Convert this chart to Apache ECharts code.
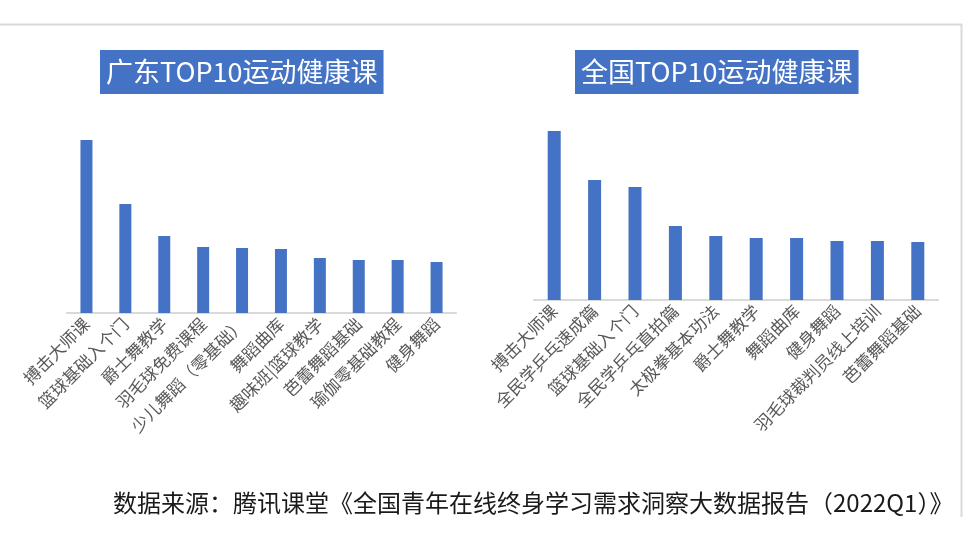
<!DOCTYPE html>
<html>
<head>
<meta charset="utf-8">
<title>TOP10运动健康课</title>
<script src="https://cdn.jsdelivr.net/npm/echarts@6/dist/echarts.min.js"></script>
<style>
    html, body { margin: 0; padding: 0; background: #fff; }
    #main { width: 964px; height: 542px; }
</style>
</head>
<body>
<div id="main"></div>
<script>
// 广东 TOP10（按图中柱高估读，相对值）
var gdCourses = ['搏击大师课', '篮球基础入个门', '爵士舞教学', '羽毛球免费课程', '少儿舞蹈（零基础）',
    '舞蹈曲库', '趣味班|篮球教学', '芭蕾舞蹈基础', '瑜伽零基础教程', '健身舞蹈'];
var gdValues = [173, 109, 77, 66, 65, 64, 55, 53, 53, 51];

// 全国 TOP10
var cnCourses = ['搏击大师课', '全民学乒乓速成篇', '篮球基础入个门', '全民学乒乓直拍篇', '太极拳基本功法',
    '爵士舞教学', '舞蹈曲库', '健身舞蹈', '羽毛球裁判员线上培训', '芭蕾舞蹈基础'];
var cnValues = [169, 120, 113, 74, 64, 62, 62, 59, 59, 58];

var titles = ['广东TOP10运动健康课', '全国TOP10运动健康课'];
var source = '数据来源：腾讯课堂《全国青年在线终身学习需求洞察大数据报告（2022Q1）》';

var fontCJK = '"Noto Sans CJK SC", "Noto Sans", sans-serif';
var blue = '#4472C4';

var myChart = echarts.init(document.getElementById('main'));

function xAxisOf(idx, data) {
    return {
        type: 'category',
        gridIndex: idx,
        data: data,
        axisTick: {show: false},
        axisLine: {lineStyle: {color: '#d9d9d9', width: 2}},
        axisLabel: {
            interval: 0,
            rotate: 45,
            margin: 8,
            fontSize: 17,
            color: '#595959',
            fontFamily: fontCJK
        }
    };
}

function yAxisOf(idx) {
    return {
        type: 'value',
        gridIndex: idx,
        min: 0,
        max: 200,
        show: false,
        splitLine: {show: false}
    };
}

function titleOf(text, left) {
    return {
        text: text,
        left: left,
        top: 50,
        backgroundColor: blue,
        padding: [5, 6],
        textStyle: {color: '#fff', fontSize: 27, fontWeight: 'normal', lineHeight: 34, fontFamily: fontCJK}
    };
}

var option = {
    animation: false,
    title: [titleOf(titles[0], 100), titleOf(titles[1], 575)],
    grid: [
        {left: 67, right: 508, top: 113, bottom: 229},
        {left: 534, right: 26, top: 100, bottom: 242}
    ],
    xAxis: [xAxisOf(0, gdCourses), xAxisOf(1, cnCourses)],
    yAxis: [yAxisOf(0), yAxisOf(1)],
    series: [{
        type: 'bar',
        xAxisIndex: 0,
        yAxisIndex: 0,
        barWidth: 12,
        itemStyle: {color: blue},
        data: gdValues
    }, {
        type: 'bar',
        xAxisIndex: 1,
        yAxisIndex: 1,
        barWidth: 13,
        itemStyle: {color: blue},
        data: cnValues
    }],
    graphic: [{
        type: 'line',
        shape: {x1: 0, y1: 24.5, x2: 962, y2: 24.5},
        style: {stroke: '#d9d9d9', lineWidth: 2}
    }, {
        type: 'line',
        shape: {x1: 961.5, y1: 24, x2: 961.5, y2: 517},
        style: {stroke: '#d9d9d9', lineWidth: 2}
    }, {
        type: 'text',
        left: 113,
        top: 491,
        style: {text: source, fill: '#1a1a1a', fontSize: 24, fontFamily: fontCJK}
    }]
};

myChart.setOption(option);
</script>
</body>
</html>
